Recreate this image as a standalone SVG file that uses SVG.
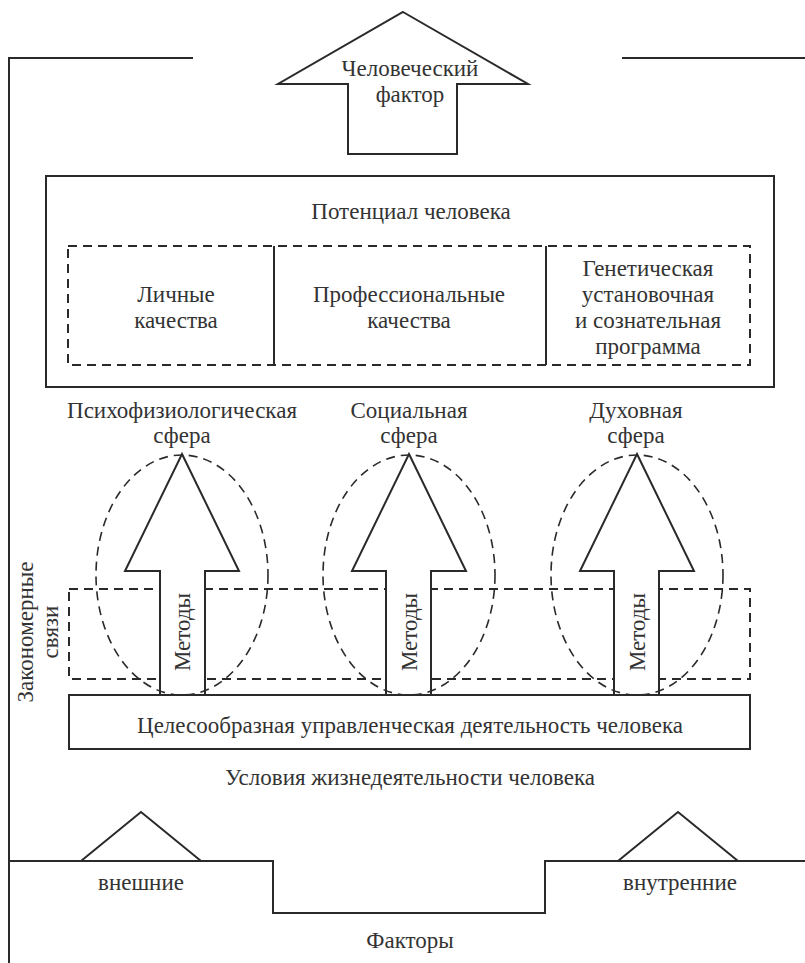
<svg xmlns="http://www.w3.org/2000/svg" width="805" height="963" viewBox="0 0 805 963" font-family="'Liberation Serif', 'Times New Roman', 'DejaVu Serif', serif">
<style>
  text { font-family: "Liberation Serif", "Times New Roman", "DejaVu Serif", serif; font-size: 23px; fill: #333; text-anchor: middle; }
  .solid { fill: none; stroke: #2a2a2a; stroke-width: 2; }
  .box { fill: #fff; stroke: #2a2a2a; stroke-width: 2; }
  .dash { fill: none; stroke: #2a2a2a; stroke-width: 2; stroke-dasharray: 9 6; }
  .ell { fill: none; stroke: #2a2a2a; stroke-width: 1.6; stroke-dasharray: 9 6; }
  .arrow { fill: #fff; stroke: #2a2a2a; stroke-width: 2; stroke-linejoin: miter; }
</style>
<rect x="0" y="0" width="805" height="963" fill="#fff"/>

<g id="connectors">
  <polyline class="solid" points="193,58 9,58 9,963"/>
  <line class="solid" x1="622" y1="58" x2="805" y2="58"/>
  <polyline class="solid" points="9,861 273,861 273,913 545,913 545,861 805,861"/>
  <polyline class="solid" points="81,861 141,812 201,861"/>
  <polyline class="solid" points="618,861 678,812 738,861"/>
</g>

<g id="human-factor">
  <polygon class="arrow" points="403,12 528,84 457,84 457,154 348,154 348,84 278,84"/>
  <text x="410" y="76">Человеческий</text>
  <text x="410" y="102">фактор</text>
</g>

<g id="potential">
  <rect class="box" x="46" y="176" width="728" height="211"/>
  <text x="411" y="219">Потенциал человека</text>
  <rect class="dash" x="68" y="246" width="682" height="119"/>
  <line class="solid" x1="274" y1="246" x2="274" y2="365"/>
  <line class="solid" x1="546" y1="246" x2="546" y2="365"/>
</g>

<g id="personal">
  <text x="176" y="302">Личные</text>
  <text x="176" y="328">качества</text>
</g>
<g id="professional">
  <text x="409" y="302">Профессиональные</text>
  <text x="409" y="328">качества</text>
</g>
<g id="genetic">
  <text x="648" y="276">Генетическая</text>
  <text x="648" y="302">установочная</text>
  <text x="648" y="328">и сознательная</text>
  <text x="648" y="354">программа</text>
</g>

<g id="links">
  <rect class="dash" x="69" y="589" width="681" height="90"/>
  <text transform="translate(33,632) rotate(-90)">Закономерные</text>
  <text transform="translate(58,632) rotate(-90)">связи</text>
</g>

<g id="psycho">
  <text x="182" y="418">Психофизиологическая</text>
  <text x="182" y="443">сфера</text>
  <polygon class="arrow" points="182,454 239,571 205,571 205,695 160,695 160,571 125,571"/>
  <ellipse class="ell" cx="182" cy="575" rx="86" ry="120"/>
  <text transform="translate(190,632) rotate(-90)">Методы</text>
</g>
<g id="social">
  <text x="409" y="418">Социальная</text>
  <text x="409" y="443">сфера</text>
  <polygon class="arrow" points="409,454 466,571 431,571 431,695 386,695 386,571 352,571"/>
  <ellipse class="ell" cx="409" cy="575" rx="86" ry="120"/>
  <text transform="translate(417,632) rotate(-90)">Методы</text>
</g>
<g id="spiritual">
  <text x="636" y="418">Духовная</text>
  <text x="636" y="443">сфера</text>
  <polygon class="arrow" points="637,454 694,571 659,571 659,695 614,695 614,571 580,571"/>
  <ellipse class="ell" cx="637" cy="575" rx="86" ry="120"/>
  <text transform="translate(645,632) rotate(-90)">Методы</text>
</g>

<g id="activity">
  <rect class="box" x="69" y="695" width="681" height="54"/>
  <text x="410" y="733">Целесообразная управленческая деятельность человека</text>
</g>

<g id="conditions">
  <text x="410" y="785">Условия жизнедеятельности человека</text>
</g>

<g id="factors">
  <text x="141" y="890">внешние</text>
  <text x="680" y="890">внутренние</text>
  <text x="410" y="948">Факторы</text>
</g>
</svg>
